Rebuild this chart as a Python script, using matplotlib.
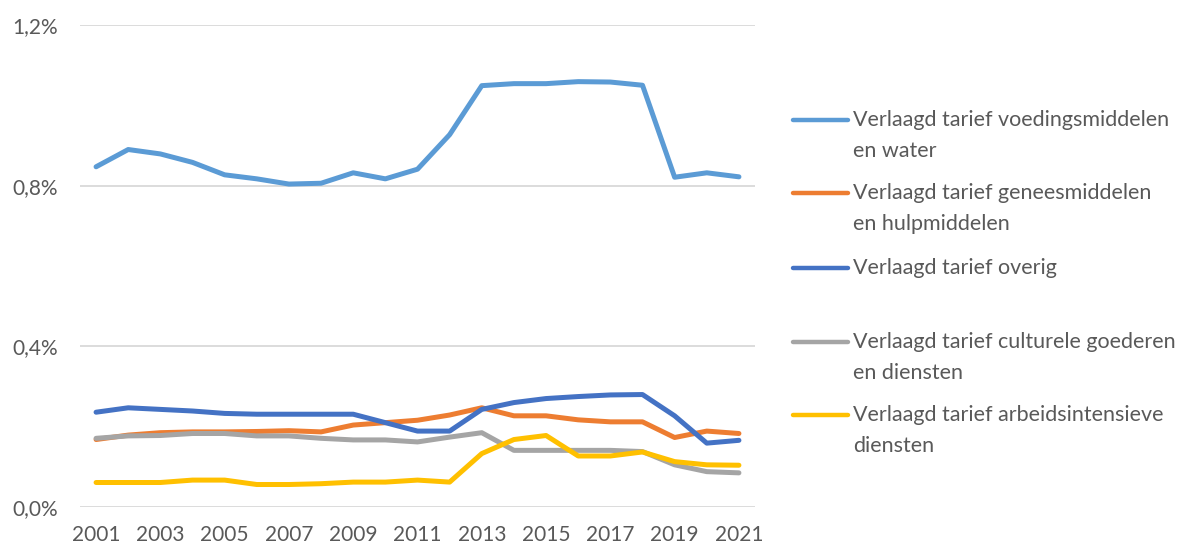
import numpy as np
import matplotlib.pyplot as plt
from matplotlib.lines import Line2D

plt.rcParams['font.family'] = ['Lato', 'DejaVu Sans']

# data (% of GDP)
years = list(range(2001, 2022))
voeding = [0.847, 0.890, 0.879, 0.858, 0.827, 0.817, 0.804, 0.806, 0.832, 0.817, 0.841,
           0.927, 1.049, 1.054, 1.054, 1.059, 1.058, 1.050, 0.821, 0.832, 0.822]
genees = [0.168, 0.179, 0.185, 0.187, 0.187, 0.188, 0.190, 0.187, 0.204, 0.210, 0.216,
          0.229, 0.247, 0.227, 0.227, 0.217, 0.212, 0.212, 0.173, 0.189, 0.183]
overig = [0.236, 0.247, 0.243, 0.239, 0.233, 0.231, 0.231, 0.231, 0.231, 0.210, 0.189,
          0.189, 0.243, 0.260, 0.270, 0.275, 0.279, 0.280, 0.227, 0.159, 0.166]
cultuur = [0.171, 0.177, 0.178, 0.183, 0.183, 0.177, 0.177, 0.171, 0.167, 0.167, 0.162,
           0.174, 0.185, 0.141, 0.141, 0.141, 0.141, 0.138, 0.105, 0.088, 0.085]
arbeid = [0.061, 0.061, 0.061, 0.067, 0.067, 0.056, 0.056, 0.058, 0.062, 0.062, 0.067,
          0.062, 0.133, 0.168, 0.178, 0.127, 0.127, 0.137, 0.113, 0.105, 0.104]

labels = ["Verlaagd tarief voedingsmiddelen\nen water",
          "Verlaagd tarief geneesmiddelen\nen hulpmiddelen",
          "Verlaagd tarief overig",
          "Verlaagd tarief culturele goederen\nen diensten",
          "Verlaagd tarief arbeidsintensieve\ndiensten"]
colors = ['#5B9BD5', '#ED7D31', '#4472C4', '#A5A5A5', '#FFC000']
yticks = [0.0, 0.4, 0.8, 1.2]
ytick_labels = ["0,0%", "0,4%", "0,8%", "1,2%"]
xticks = years[::2]

fig = plt.figure(figsize=(11.89, 5.47), dpi=100)
ax = fig.add_axes([80/1189, 1 - 507/547, 675/1189, 482/547])

series = [voeding, genees, overig, cultuur, arbeid]
for vals, c in zip(series, colors):
    ax.plot(years, vals, color=c, lw=3.6, solid_capstyle='round', solid_joinstyle='round')

ax.set_xlim(2000.5, 2021.5)
ax.set_ylim(0, 1.2)
ax.set_yticks(yticks)
ax.set_yticklabels(ytick_labels)
ax.set_xticks(xticks)
ax.set_xticklabels([str(y) for y in xticks])
ax.grid(axis='y', color='#D9D9D9', lw=1.3)
ax.set_axisbelow(True)
for s in ax.spines.values():
    s.set_visible(False)
ax.tick_params(length=0, labelsize=15, colors='#595959')
ax.tick_params(axis='y', pad=16)
ax.tick_params(axis='x', pad=13)

# legend drawn by hand
leg_y = [120, 193, 268, 342, 415]
for lab, c, y in zip(labels, colors, leg_y):
    yf = 1 - y / 547
    fig.add_artist(Line2D([793/1189, 848/1189], [yf, yf], color=c, lw=3.2,
                          solid_capstyle='round'))
    fig.text(853/1189, yf + 10/547, lab, fontsize=15.5, color='#595959',
             va='top', ha='left', linespacing=1.7)

fig.savefig('out.png', dpi=100)
